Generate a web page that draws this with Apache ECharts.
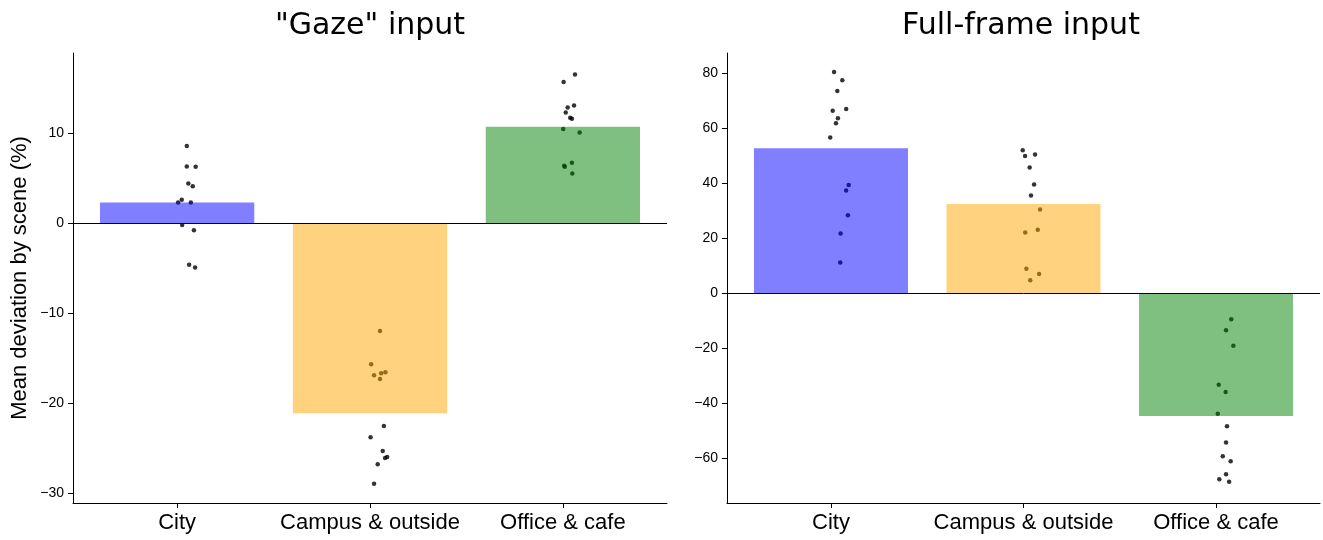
<!DOCTYPE html>
<html>
<head>
<meta charset="utf-8">
<script src="https://cdn.jsdelivr.net/npm/echarts@6/dist/echarts.min.js"></script>
<style>
  html, body { margin: 0; padding: 0; background: #fff; }
  #chart { width: 1323px; height: 540px; }
</style>
</head>
<body>
<div id="chart"></div>
<script>
// Scene categories shared by both panels
const categories = ['City', 'Campus & outside', 'Office & cafe'];

// Bar heights: mean deviation per scene (%)
const gazeBars = [2.29, -21.1, 10.7];
const fullBars = [52.7, 32.4, -44.6];

// Per-subject values ("Gaze" input) with their horizontal strip offsets
const gazeCityY = [8.55, 6.3, 6.25, 4.4, 4.1, 2.6, 2.3, 2.3, -0.2, -0.78, -4.63, -4.93];
const gazeCityDx = [0.05, 0.05, 0.096, 0.058, 0.081, 0.024, 0.005, 0.071, 0.026, 0.087, 0.062, 0.093];
const gazeCampusY = [-11.97, -15.67, -16.89, -16.67, -16.56, -17.3, -22.52, -23.78, -25.3, -26.08, -25.97, -26.78, -28.93];
const gazeCampusDx = [0.052, 0.006, 0.021, 0.058, 0.08, 0.052, 0.072, 0.003, 0.066, 0.078, 0.089, 0.04, 0.021];
const gazeOfficeY = [16.51, 15.67, 13.07, 12.84, 12.29, 11.7, 11.59, 10.44, 10.07, 6.7, 6.37, 6.26, 5.51];
const gazeOfficeDx = [0.063, 0.004, 0.058, 0.025, 0.015, 0.038, 0.047, 0.002, 0.087, 0.047, 0.007, 0.01, 0.049];

// Per-subject values (Full-frame input) with their horizontal strip offsets
const fullCityY = [80.4, 77.4, 73.45, 66.9, 66.3, 63.6, 61.7, 56.6, 39.3, 37.3, 28.35, 21.7, 11.1];
const fullCityDx = [0.016, 0.059, 0.033, 0.079, 0.009, 0.036, 0.026, -0.004, 0.092, 0.079, 0.088, 0.05, 0.048];
const fullCampusY = [51.9, 49.8, 50.4, 45.7, 39.5, 35.5, 30.4, 23.0, 22.05, 8.85, 7.0, 4.7];
const fullCampusDx = [-0.004, 0.008, 0.06, 0.032, 0.055, 0.039, 0.086, 0.074, 0.009, 0.015, 0.081, 0.035];
const fullOfficeY = [-9.45, -13.45, -19.15, -33.3, -35.9, -43.8, -48.4, -54.3, -59.3, -61.1, -65.8, -67.65, -68.5];
const fullOfficeDx = [0.079, 0.052, 0.09, 0.014, 0.05, 0.009, 0.057, 0.052, 0.035, 0.076, 0.052, 0.017, 0.068];

// Tick labels
const gazeTicks = [-30, -20, -10, 0, 10];
const fullTicks = [-60, -40, -20, 0, 20, 40, 60, 80];
const catTicks = [0, 1, 2];

// Bar colours (50% alpha over white)
const barColors = ['rgba(0,0,255,0.5)', 'rgba(255,165,0,0.5)', 'rgba(0,128,0,0.5)'];

const X_MIN = -0.54, X_MAX = 2.54;
const grids = [
  { left: 73, top: 53, width: 594, height: 450 },
  { left: 727, top: 53, width: 593, height: 450 }
];

function strip(ys, dxs, idx) {
  return ys.map((y, i) => [idx + dxs[i], y]);
}
function minusFmt(v) {
  return v < 0 ? '\u2212' + Math.abs(v) : String(v);
}

const chart = echarts.init(document.getElementById('chart'), null, { renderer: 'canvas' });

const tickFont = { fontFamily: 'Liberation Sans, Arial, sans-serif', fontSize: 14, color: '#000' };
const axisLine = { show: true, onZero: false, lineStyle: { color: '#000', width: 1 } };

function xAxisFor(gi) {
  return {
    type: 'value', gridIndex: gi, min: X_MIN, max: X_MAX,
    axisLine: axisLine,
    axisTick: { show: true, customValues: catTicks, length: 5, lineStyle: { color: '#000' } },
    axisLabel: {
      show: true, customValues: catTicks, margin: 9,
      formatter: v => categories[Math.round(v)],
      fontFamily: 'Liberation Sans, Arial, sans-serif', fontSize: 22, color: '#000'
    },
    splitLine: { show: false }
  };
}
function yAxisFor(gi, min, max, ticks, name) {
  return {
    type: 'value', gridIndex: gi, min: min, max: max,
    axisLine: axisLine,
    axisTick: { show: true, customValues: ticks, length: 5, lineStyle: { color: '#000' } },
    axisLabel: Object.assign({ show: true, customValues: ticks, margin: 9, formatter: minusFmt }, tickFont),
    splitLine: { show: false },
    name: name || '', nameLocation: 'middle', nameGap: 42,
    nameTextStyle: { fontFamily: 'Liberation Sans, Arial, sans-serif', fontSize: 22, color: '#000' }
  };
}

function barSeries(gi, values) {
  const barW = 0.8 * grids[gi].width / (X_MAX - X_MIN);
  return {
    type: 'bar', xAxisIndex: gi, yAxisIndex: gi, z: 3,
    barWidth: barW,
    data: values.map((v, i) => ({ value: [i, v], itemStyle: { color: barColors[i] } })),
    markLine: {
      silent: true, symbol: 'none', animation: false,
      label: { show: false },
      lineStyle: { color: '#000', width: 1, type: 'solid' },
      data: [{ yAxis: 0 }]
    },
    animation: false
  };
}
function pointSeries(gi, data) {
  return {
    type: 'scatter', xAxisIndex: gi, yAxisIndex: gi, z: 2,
    symbolSize: 4.5, itemStyle: { color: '#000' },
    data: data, animation: false
  };
}

const option = {
  backgroundColor: '#fff',
  animation: false,
  title: [
    { text: '"Gaze" input', left: 365, top: 6, textAlign: 'center',
      textStyle: { fontFamily: 'DejaVu Sans', fontSize: 30, fontWeight: 'normal', color: '#000' } },
    { text: 'Full-frame input', left: 1016, top: 6, textAlign: 'center',
      textStyle: { fontFamily: 'DejaVu Sans', fontSize: 30, fontWeight: 'normal', color: '#000' } }
  ],
  grid: grids,
  xAxis: [xAxisFor(0), xAxisFor(1)],
  yAxis: [
    yAxisFor(0, -31.08, 18.89, gazeTicks, 'Mean deviation by scene (%)'),
    yAxisFor(1, -76.25, 87.27, fullTicks)
  ],
  series: [
    pointSeries(0, [].concat(
      strip(gazeCityY, gazeCityDx, 0),
      strip(gazeCampusY, gazeCampusDx, 1),
      strip(gazeOfficeY, gazeOfficeDx, 2))),
    barSeries(0, gazeBars),
    pointSeries(1, [].concat(
      strip(fullCityY, fullCityDx, 0),
      strip(fullCampusY, fullCampusDx, 1),
      strip(fullOfficeY, fullOfficeDx, 2))),
    barSeries(1, fullBars)
  ]
};
chart.setOption(option);
</script>
</body>
</html>
